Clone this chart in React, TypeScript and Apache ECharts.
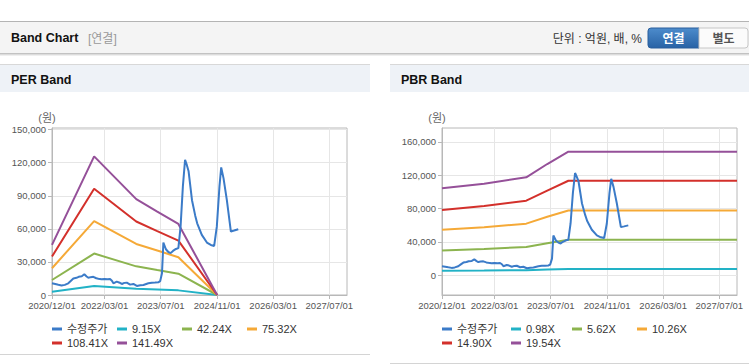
import React, { useEffect, useRef } from 'react';
import * as echarts from 'echarts';

// ---- axis ticks ----
const xTickDates = ['2020-12-01', '2022-03-01', '2023-07-01', '2024-11-01', '2026-03-01', '2027-07-01'];
const xMinDate = '2020-12-01';
const xMaxDate = '2027-12-01';
const perTicks = [0, 30000, 60000, 90000, 120000, 150000];
const pbrTicks = [0, 40000, 80000, 120000, 160000];

// ---- 수정주가 (adjusted price) ----
const priceDates = [
  '2020-12-01', '2020-12-29', '2021-01-25', '2021-02-22', '2021-03-22', '2021-04-21', '2021-05-10', '2021-06-04',
  '2021-07-01', '2021-07-20', '2021-08-16', '2021-09-07', '2021-09-27', '2021-10-12', '2021-11-01', '2021-11-24',
  '2021-12-20', '2022-01-07', '2022-02-03', '2022-02-28', '2022-03-28', '2022-04-18', '2022-05-04', '2022-05-17',
  '2022-06-15', '2022-07-05', '2022-07-29', '2022-08-20', '2022-09-10', '2022-10-09', '2022-11-06', '2022-12-06',
  '2023-01-05', '2023-02-01', '2023-03-16', '2023-04-15', '2023-05-13', '2023-06-10', '2023-06-26', '2023-07-12',
  '2023-07-24', '2023-08-15', '2023-09-05', '2023-09-25', '2023-10-15', '2023-11-10', '2023-12-01', '2023-12-20',
  '2024-01-09', '2024-01-28', '2024-02-12', '2024-02-27', '2024-03-28', '2024-04-25', '2024-05-12', '2024-06-21',
  '2024-08-04', '2024-09-07', '2024-10-06', '2024-10-29', '2024-11-21', '2024-12-06', '2024-12-26', '2025-01-24',
  '2025-02-28', '2025-03-28', '2025-05-03',
];
const priceValues = [
  10600, 10000, 9300, 8600, 9200, 10600, 12500, 15000,
  15600, 16500, 17000, 18800, 16800, 15600, 16200, 16500,
  15200, 14800, 14300, 14600, 14200, 14500, 13000, 10600,
  12100, 11400, 10000, 11000, 11200, 9400, 10000, 8200,
  8800, 9100, 10600, 11200, 11300, 11500, 12500, 19700,
  47500, 41500, 39000, 38000, 40000, 41800, 42500, 62000,
  98500, 122700, 118000, 112500, 86000, 72000, 65000, 54500,
  47600, 45400, 44500, 62000, 98500, 115700, 106000, 86000,
  57600, 58500, 59700,
];

// ---- PER band ----
const perBandDates = ['2020-12-01', '2021-12-01', '2022-12-01', '2023-06-01', '2023-12-01', '2024-11-01'];
const per915 = [2900, 8100, 5600, 4900, 4200, 0];
const per4224 = [13600, 37600, 26000, 22600, 19300, 0];
const per7532 = [24300, 67000, 46300, 40300, 34300, 0];
const per10841 = [34900, 96400, 66700, 58000, 49400, 0];
const per14149 = [45500, 125800, 87000, 75700, 64500, 0];

// ---- PBR band ----
const pbrBandDates = ['2020-12-01', '2021-12-01', '2022-12-01', '2023-06-01', '2023-12-01', '2027-12-01'];
const pbr098 = [5200, 5400, 5900, 6700, 7400, 7400];
const pbr562 = [29500, 31200, 33800, 38200, 42300, 42300];
const pbr1026 = [54600, 57500, 61800, 70000, 77600, 77600];
const pbr1490 = [78200, 83000, 89400, 101500, 113400, 113400];
const pbr1954 = [104300, 109800, 117500, 133500, 148300, 148300];

const priceName = '수정주가';
const perNames = ['9.15X', '42.24X', '75.32X', '108.41X', '141.49X'];
const pbrNames = ['0.98X', '5.62X', '10.26X', '14.90X', '19.54X'];
const bandColors = ['#22b2c6', '#8cb44f', '#f5a937', '#d3302b', '#955099'];
const priceColor = '#3b7bc8';

const FONT = '"Liberation Sans", "Noto Sans CJK KR", sans-serif';

function ts(s: string): number {
  const [y, m, d] = s.split('-').map(Number);
  return new Date(y, m - 1, d).getTime();
}
function pairs(dates: string[], vals: number[]) {
  return dates.map((d, i) => [ts(d), vals[i]]);
}
function fmtDate(v: number) {
  const d = new Date(v);
  return `${d.getFullYear()}/${String(d.getMonth() + 1).padStart(2, '0')}/${String(d.getDate()).padStart(2, '0')}`;
}
function fmtNum(v: number) {
  return String(Math.round(v)).replace(/\B(?=(\d{3})+(?!\d))/g, ',');
}

function lineSeries(name: string, color: string, data: any[], idx: number, width = 2) {
  return {
    type: 'line',
    name,
    xAxisIndex: idx,
    yAxisIndex: idx,
    data,
    showSymbol: false,
    symbol: 'none',
    silent: true,
    color,
    itemStyle: { color },
    lineStyle: { color, width },
    emphasis: { disabled: true },
  };
}

function makeXAxis(idx: number) {
  const ticks = xTickDates.map(ts);
  return {
    type: 'value',
    gridIndex: idx,
    min: ts(xMinDate),
    max: ts(xMaxDate),
    axisLine: { show: true, onZero: false, lineStyle: { color: '#b8b8b8', width: 1 } },
    axisTick: { show: true, length: 4, customValues: ticks, lineStyle: { color: '#b8b8b8' } },
    axisLabel: {
      customValues: ticks,
      formatter: (v: number) => fmtDate(v),
      color: '#555',
      fontSize: 9.5,
      fontFamily: FONT,
      margin: 6,
    },
    splitLine: { show: true, lineStyle: { color: '#e6e6e6', width: 1 } },
  };
}

function makeYAxis(idx: number, min: number, max: number, ticks: number[]) {
  return {
    type: 'value',
    gridIndex: idx,
    min,
    max,
    name: '(원)',
    nameLocation: 'end',
    nameGap: 10,
    nameTextStyle: { color: '#666', fontSize: 11, fontFamily: FONT, align: 'center', verticalAlign: 'middle', padding: [0, 10, 0, 0] },
    axisLine: { show: true, onZero: false, lineStyle: { color: '#b8b8b8', width: 1 } },
    axisTick: { show: true, length: 4, customValues: ticks, lineStyle: { color: '#b8b8b8' } },
    axisLabel: {
      customValues: ticks,
      formatter: (v: number) => fmtNum(v),
      color: '#555',
      fontSize: 9.5,
      fontFamily: FONT,
      margin: 6,
    },
    splitLine: { show: true, lineStyle: { color: '#e6e6e6', width: 1 } },
  };
}

function legendItem(name: string, left: number, top: number) {
  return {
    data: [name],
    left,
    top,
    padding: 0,
    icon: 'rect',
    itemWidth: 10,
    itemHeight: 3,
    itemGap: 0,
    selectedMode: false,
    textStyle: { fontSize: 11, color: '#333', fontFamily: FONT },
  };
}

function txt(text: string, x: number, y: number, font: string, fill: string, align = 'left') {
  return {
    type: 'text',
    x,
    y,
    silent: true,
    style: {
      text,
      font,
      fill,
      align,
      textAlign: align,
      verticalAlign: 'middle',
      textVerticalAlign: 'middle',
    },
  };
}
function rect(x: number, y: number, w: number, h: number, fill: any, extra: any = {}) {
  return {
    type: 'rect',
    silent: true,
    shape: { x, y, width: w, height: h, r: extra.r || 0 },
    style: { fill, stroke: extra.stroke || null, lineWidth: extra.lineWidth || 0 },
  };
}

export default function App() {
  const ref = useRef<HTMLDivElement>(null);

  useEffect(() => {
    if (!ref.current) return;
    const chart = echarts.init(ref.current, undefined, { renderer: 'svg' });

    const perBands = [per915, per4224, per7532, per10841, per14149];
    const pbrBands = [pbr098, pbr562, pbr1026, pbr1490, pbr1954];

    const series: any[] = [];
    perBands.forEach((vals, i) => series.push(lineSeries(perNames[i], bandColors[i], pairs(perBandDates, vals), 0)));
    series.push(lineSeries(priceName, priceColor, pairs(priceDates, priceValues), 0));
    pbrBands.forEach((vals, i) => series.push(lineSeries(pbrNames[i], bandColors[i], pairs(pbrBandDates, vals), 1)));
    series.push(lineSeries(priceName, priceColor, pairs(priceDates, priceValues), 1));

    const row1 = 323.5;
    const row2 = 337.5;
    const legends = [
      legendItem(priceName, 52, row1),
      legendItem(perNames[0], 117, row1),
      legendItem(perNames[1], 182, row1),
      legendItem(perNames[2], 247, row1),
      legendItem(perNames[3], 52, row2),
      legendItem(perNames[4], 117, row2),
      legendItem(priceName, 442, row1),
      legendItem(pbrNames[0], 511, row1),
      legendItem(pbrNames[1], 572, row1),
      legendItem(pbrNames[2], 637, row1),
      legendItem(pbrNames[3], 442, row2),
      legendItem(pbrNames[4], 511, row2),
    ];

    const blueGrad = new echarts.graphic.LinearGradient(0, 0, 0, 1, [
      { offset: 0, color: '#4d8ccc' },
      { offset: 1, color: '#2862a5' },
    ]);

    const graphic: any[] = [
      rect(0, 21, 749, 1, '#b4b4b4'),
      rect(0, 22, 749, 31, '#f4f4f4'),
      rect(0, 53, 749, 1, '#c2c2c2'),
      rect(0, 54, 749, 1, '#dcdcdc'),
      rect(0, 55, 749, 1, '#efefef'),
      txt('Band Chart', 11, 38, `bold 12.5px ${FONT}`, '#111'),
      txt('[연결]', 88, 38.5, `12px ${FONT}`, '#999'),
      txt('단위 : 억원, 배, %', 642, 39, `12px ${FONT}`, '#333', 'right'),
      rect(648, 28, 51, 20, blueGrad, { r: [3, 0, 0, 3], stroke: '#2a5e9c', lineWidth: 1 }),
      rect(699, 28, 49, 20, '#fbfbfb', { r: [0, 3, 3, 0], stroke: '#c6c6c6', lineWidth: 1 }),
      txt('연결', 673.5, 38.5, `bold 12px ${FONT}`, '#fff', 'center'),
      txt('별도', 723.5, 38.5, `bold 12px ${FONT}`, '#555', 'center'),
      rect(0, 64, 370, 1, '#d8d8d8'),
      rect(0, 65, 370, 27, '#eef2f7'),
      txt('PER Band', 11, 80, `bold 12.5px ${FONT}`, '#111'),
      rect(0, 354, 370, 1, '#d4d4d4'),
      rect(390, 64, 359, 1, '#d8d8d8'),
      rect(390, 65, 359, 27, '#eef2f7'),
      txt('PBR Band', 401, 80, `bold 12.5px ${FONT}`, '#111'),
      rect(390, 363, 359, 1, '#d4d4d4'),
    ];

    chart.setOption({
      animation: false,
      backgroundColor: '#ffffff',
      textStyle: { fontFamily: FONT },
      grid: [
        { left: 52, top: 128, right: 402, bottom: 69, show: true, borderColor: '#b8b8b8', borderWidth: 1, containLabel: false },
        { left: 442, top: 128, right: 12, bottom: 69, show: true, borderColor: '#b8b8b8', borderWidth: 1, containLabel: false },
      ],
      xAxis: [makeXAxis(0), makeXAxis(1)],
      yAxis: [makeYAxis(0, 0, 151500, perTicks), makeYAxis(1, -24000, 176800, pbrTicks)],
      legend: legends,
      graphic,
      series,
    });

    return () => chart.dispose();
  }, []);

  return (
    <div style={{ position: 'fixed', left: 0, top: 0, width: 749, height: 364, background: '#fff' }}>
      <div ref={ref} style={{ width: 749, height: 364 }} />
    </div>
  );
}
